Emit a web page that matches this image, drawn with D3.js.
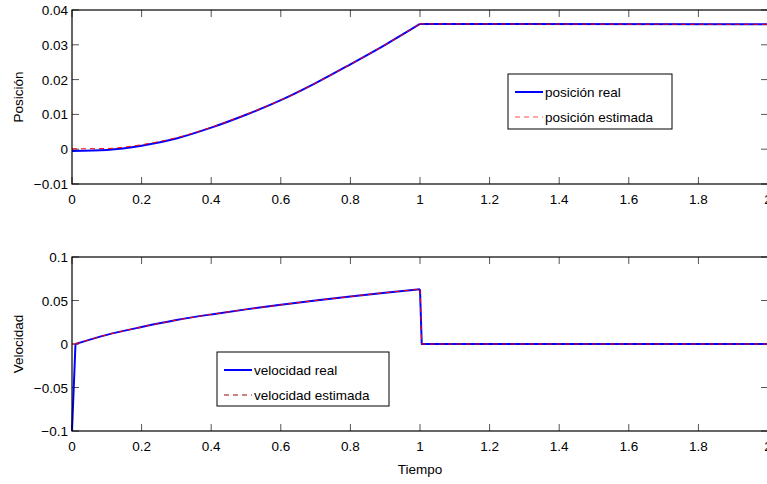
<!DOCTYPE html>
<html><head><meta charset="utf-8">
<script src="https://cdn.jsdelivr.net/npm/d3@7"></script>
<style>body{margin:0;background:#fff}svg{display:block;font-family:"Liberation Sans",Arial,Helvetica,sans-serif}</style>
</head><body>
<svg id="c" width="767" height="484"></svg>
<script>
// ---- data ----
const posTime = [0, 0.1, 0.2, 0.3, 0.4, 0.5, 0.6, 0.7, 0.8, 0.9, 1.0, 2.0];
const posReal = [-0.0005, -0.0002, 0.0010, 0.0031, 0.0062, 0.0099, 0.0141, 0.0190, 0.0244, 0.0300, 0.0360, 0.0359];
const posEst  = [0.0001, 0.0002, 0.0013, 0.0033, 0.0063, 0.0100, 0.0141, 0.0190, 0.0244, 0.0300, 0.0360, 0.0359];
const velTime = [0, 0.01, 0.1, 0.2, 0.3, 0.4, 0.5, 0.6, 0.7, 0.8, 0.9, 1.0, 1.005, 2.0];
const velReal = [-0.1, 0.0, 0.0105, 0.0195, 0.0275, 0.0340, 0.0398, 0.0450, 0.0500, 0.0546, 0.0590, 0.0630, 0.0, 0.0];
const velEst  = [0.0, 0.0, 0.0105, 0.0195, 0.0275, 0.0340, 0.0398, 0.0450, 0.0500, 0.0546, 0.0590, 0.0630, 0.0, 0.0];
// smooth (curved) stretches: [start index, end index] in the arrays above
const posSmooth = [0, 10];
const velSmooth = [1, 11];
const xTicks = [0, 0.2, 0.4, 0.6, 0.8, 1, 1.2, 1.4, 1.6, 1.8, 2];
const posTicks = [-0.01, 0, 0.01, 0.02, 0.03, 0.04];
const velTicks = [-0.1, -0.05, 0, 0.05, 0.1];
const posLabels = ["posición real", "posición estimada"];
const velLabels = ["velocidad real", "velocidad estimada"];

const svg = d3.select("#c");
const left = 72, right = 768;
const x = d3.scaleLinear().domain([0, 2]).range([left, right]);
const fmt = v => (v < 0 ? "\u2212" : "") + String(Math.abs(Math.round(v*1000)/1000));

function pathFor(tArr, vals, y, smooth) {
  const pts = vals.map((v, i) => [x(tArr[i]), y(v)]);
  const lin = d3.line();
  const cur = d3.line().curve(d3.curveMonotoneX);
  const [a, b] = smooth;
  let d = "";
  if (a > 0) d += lin(pts.slice(0, a + 1));
  d += cur(pts.slice(a, b + 1));
  if (b < pts.length - 1) d += lin(pts.slice(b));
  return d;
}

function panel(top, bottom, yDomain, yTicks, tArr, real, est, smooth, yLabel, legend, legendBox, estLegendColor) {
  const y = d3.scaleLinear().domain(yDomain).range([bottom, top]);
  const g = svg.append("g");
  const tl = 7;
  g.selectAll(".xt").data(xTicks).enter().append("path")
    .attr("d", d => `M${x(d)},${bottom}V${bottom - tl}M${x(d)},${top}V${top + tl}`)
    .attr("stroke", "#555").attr("stroke-width", 1);
  g.selectAll(".yt").data(yTicks).enter().append("path")
    .attr("d", d => `M${left},${y(d)}H${left + tl}M${right},${y(d)}H${right - tl}`)
    .attr("stroke", "#555").attr("stroke-width", 1);
  g.append("path").attr("d", pathFor(tArr, real, y, smooth)).attr("fill", "none")
    .attr("stroke", "#0000ff").attr("stroke-width", 2).attr("stroke-linejoin", "round");
  g.append("path").attr("d", pathFor(tArr, est, y, smooth)).attr("fill", "none")
    .attr("stroke", "#ff0000").attr("stroke-width", 1).attr("stroke-dasharray", "5,4");
  g.append("rect").attr("x", left).attr("y", top).attr("width", right - left).attr("height", bottom - top)
    .attr("fill", "none").attr("stroke", "#000").attr("stroke-width", 1.2);
  g.selectAll(".xl").data(xTicks).enter().append("text")
    .attr("x", d => x(d)).attr("y", bottom + 20).attr("text-anchor", "middle")
    .attr("font-size", 13.5).text(d => String(d));
  g.selectAll(".yl").data(yTicks).enter().append("text")
    .attr("x", left - 4).attr("y", d => y(d) + 5).attr("text-anchor", "end")
    .attr("font-size", 13.5).text(fmt);
  g.append("text").attr("transform", `translate(${23},${(top + bottom) / 2}) rotate(-90)`)
    .attr("text-anchor", "middle").attr("font-size", 13.5).text(yLabel);
  const [lx, ly, lw, lh] = legendBox;
  const lg = g.append("g");
  lg.append("rect").attr("x", lx).attr("y", ly).attr("width", lw).attr("height", lh)
    .attr("fill", "#fff").attr("stroke", "#000").attr("stroke-width", 1);
  const rows = [ly + 18, ly + 43];
  lg.append("line").attr("x1", lx + 7).attr("x2", lx + 35).attr("y1", rows[0]).attr("y2", rows[0])
    .attr("stroke", "#0000ff").attr("stroke-width", 2);
  lg.append("line").attr("x1", lx + 7).attr("x2", lx + 35).attr("y1", rows[1]).attr("y2", rows[1])
    .attr("stroke", estLegendColor).attr("stroke-width", 1).attr("stroke-dasharray", "5,4");
  legend.forEach((t, i) => lg.append("text").attr("x", lx + 37).attr("y", rows[i] + 5)
    .attr("font-size", 13.5).text(t));
}

panel(10, 184, [-0.01, 0.04], posTicks, posTime, posReal, posEst, posSmooth, "Posición", posLabels, [508, 74, 164, 55], "#ff5050");
panel(257, 431, [-0.1, 0.1], velTicks, velTime, velReal, velEst, velSmooth, "Velocidad", velLabels, [217, 352, 172, 54], "#a00000");

svg.append("text").attr("x", 420).attr("y", 474).attr("text-anchor", "middle").attr("font-size", 13.5).text("Tiempo");
</script>
</body></html>
